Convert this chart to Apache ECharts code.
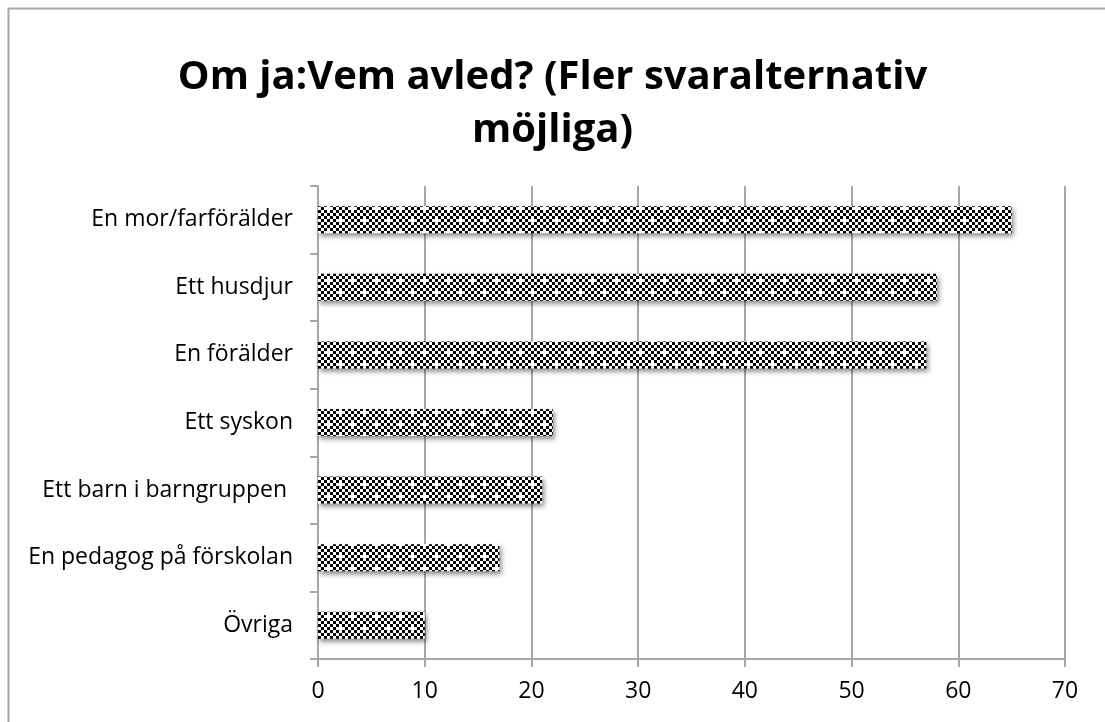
<!DOCTYPE html>
<html><head><meta charset="utf-8">
<script src="https://cdn.jsdelivr.net/npm/echarts@6/dist/echarts.min.js"></script>
<style>html,body{margin:0;padding:0;background:#fff}#c{width:1105px;height:722px}</style>
</head><body><div id="c"></div>
<script>
const categories = ["Övriga","En pedagog på förskolan","Ett barn i barngruppen ","Ett syskon","En förälder","Ett husdjur","En mor/farförälder"];
const values = [10,17,21,22,57,58,65];
const xTicks = {min:0,max:70,interval:10};
const titleText = "Om ja:Vem avled? (Fler svaralternativ\nmöjliga)";

function makePattern(){
  const s = 3, n = 8;
  const c = document.createElement('canvas');
  c.width = s*n; c.height = s*n;
  const g = c.getContext('2d');
  g.fillStyle = '#fff'; g.fillRect(0,0,c.width,c.height);
  g.fillStyle = '#000';
  for (let j=0;j<n;j++) for (let i=0;i<n;i++){
    if ((i+j)%2===0 && !((i===1&&j===1)||(i===5&&j===5))) g.fillRect(i*s,j*s,s,s);
  }
  return c;
}
const chart = echarts.init(document.getElementById('c'));
const axisGrey = '#a6a6a6';
chart.setOption({
  animation:false,
  backgroundColor:'#fff',
  graphic:[{type:'rect',shape:{x:8.5,y:8.5,width:1110,height:730},style:{fill:'none',stroke:'#a6a6a6',lineWidth:2}}],
  title:{text:titleText,left:'center',top:46,textStyle:{fontFamily:'Open Sans',fontWeight:'bold',fontSize:40,lineHeight:53,color:'#000'}},
  grid:{left:318,right:40,top:186,bottom:63},
  xAxis:{type:'value',min:xTicks.min,max:xTicks.max,interval:xTicks.interval,
    axisLine:{show:true,lineStyle:{color:axisGrey,width:2}},
    axisTick:{show:true,length:8,lineStyle:{color:axisGrey,width:2}},
    splitLine:{show:true,lineStyle:{color:axisGrey,width:2}},
    axisLabel:{fontFamily:'Open Sans',fontSize:23,color:'#000',margin:21}},
  yAxis:{type:'category',data:categories,
    axisLine:{show:true,lineStyle:{color:axisGrey,width:2}},
    axisTick:{show:true,length:8,lineStyle:{color:axisGrey,width:2}},
    axisLabel:{fontFamily:'Open Sans',fontSize:23,color:'#000',margin:25}},
  series:[{type:'bar',data:values,barWidth:27,
    itemStyle:{color:{image:makePattern(),repeat:'repeat'},shadowColor:'rgba(0,0,0,0.45)',shadowBlur:5,shadowOffsetX:2,shadowOffsetY:3}}]
});
</script></body></html>
